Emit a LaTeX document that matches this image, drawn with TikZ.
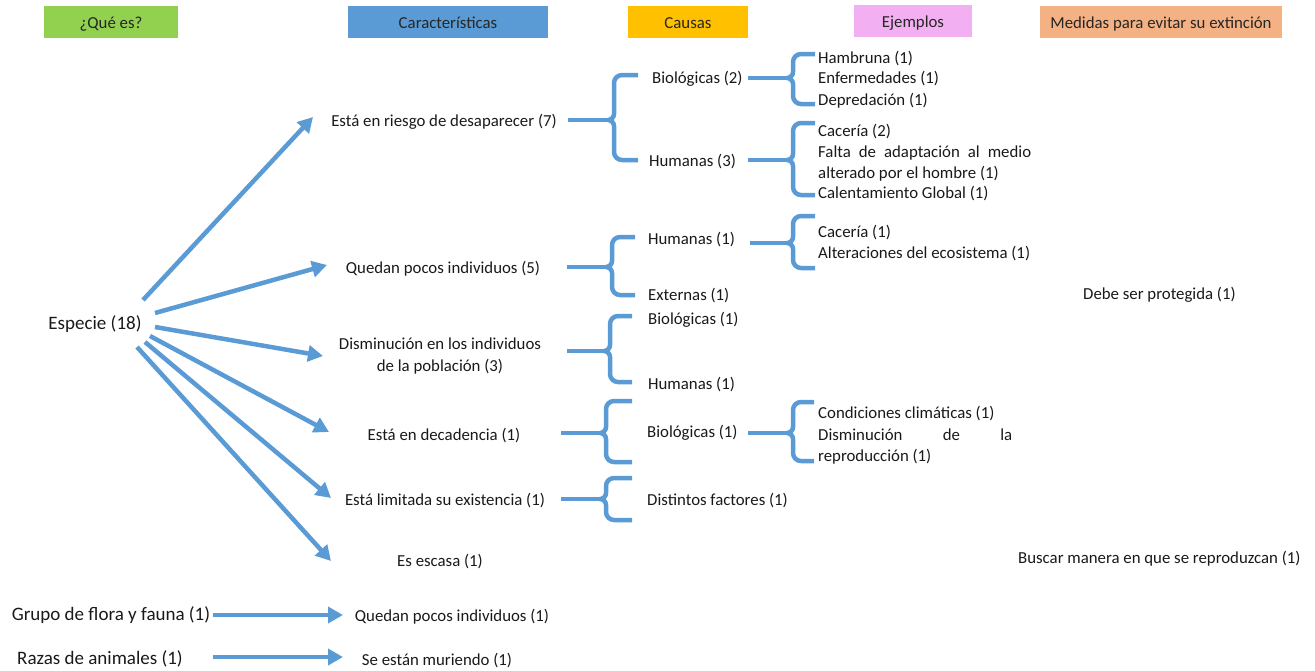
\documentclass[tikz,border=0pt]{standalone}
\usepackage{fontspec}
\setmainfont{Carlito}
\usetikzlibrary{arrows.meta,calc}
\definecolor{cblue}{HTML}{5B9BD5}
\definecolor{cgreen}{HTML}{92D050}
\definecolor{corange}{HTML}{FFC000}
\definecolor{cpink}{HTML}{F2B0F2}
\definecolor{csalmon}{HTML}{F4B183}
\newcommand\curly[6]{%
  \draw[brc] (#1,#2) -- (#3-6,#2);
  \draw[brc] (#6,#4) -- (#3+8,#4) to[out=180,in=90] (#3,#4+8) -- (#3,#2-6)
    to[out=-90,in=0] (#3-6,#2) to[out=0,in=90] (#3,#2+6) -- (#3,#5-8)
    to[out=-90,in=180] (#3+8,#5) -- (#6,#5);
}
\begin{document}
\begin{tikzpicture}[x=1pt,y=-1pt,
  hdr/.style={minimum height=32pt, inner sep=0pt, text height=14pt, text depth=2pt, font=\fontsize{16.8}{20}\selectfont, text=black!85},
  txt/.style={inner sep=0pt, yshift=-2pt, font=\fontsize{16.8}{21.5}\selectfont, text=black!90},
  big/.style={inner sep=0pt, yshift=-2pt, font=\fontsize{19}{23}\selectfont, text=black!90},
  arr/.style={draw=cblue, line width=4.5pt, -{Triangle[length=15pt,width=16pt]}},
  brc/.style={draw=cblue, line width=4.5pt, line join=round}]
\useasboundingbox (0,0) rectangle (1315,670);
% headers
\node[hdr, fill=cgreen, minimum width=134pt] (h1) at (111,22) {¿Qué es?};
\node[hdr, fill=cblue, minimum width=200pt] (h2) at (448,22) {Características};
\node[hdr, fill=corange, minimum width=120pt] (h3) at (688,22) {Causas};
\node[hdr, fill=cpink, minimum width=118pt] (h4) at (913,21) {Ejemplos};
\node[hdr, fill=csalmon, minimum width=242pt] (h5) at (1161,22) {Medidas para evitar su extinción};
% left
\node[big] (e) at (95,322) {Especie (18)};
\node[big] (g) at (111,613) {Grupo de flora y fauna (1)};
\node[big] (rz) at (100,657) {Razas de animales (1)};
% characteristics
\node[txt] (c1) at (444,120) {Está en riesgo de desaparecer (7)};
\node[txt] (c2) at (443,267) {Quedan pocos individuos (5)};
\node[txt, align=center] (c3) at (440,354) {Disminución en los individuos\\de la población (3)};
\node[txt] (c4) at (444,434) {Está en decadencia (1)};
\node[txt] (c5) at (445,499) {Está limitada su existencia (1)};
\node[txt] (c6) at (440,560) {Es escasa (1)};
\node[txt] (c7) at (452,615) {Quedan pocos individuos (1)};
\node[txt] (c8) at (437,659) {Se están muriendo (1)};
% causes
\node[txt, anchor=west] (k1) at (652,77) {Biológicas (2)};
\node[txt, anchor=west] (k2) at (649,160) {Humanas (3)};
\node[txt, anchor=west] (k3) at (648,238) {Humanas (1)};
\node[txt, anchor=west] (k4) at (648,294) {Externas (1)};
\node[txt, anchor=west] (k5) at (648,318) {Biológicas (1)};
\node[txt, anchor=west] (k6) at (648,383) {Humanas (1)};
\node[txt, anchor=west] (k7) at (647,431) {Biológicas (1)};
\node[txt, anchor=west] (k8) at (647,499) {Distintos factores (1)};
% examples
\node[txt, anchor=west] (x1) at (818,57) {Hambruna (1)};
\node[txt, anchor=west] (x2) at (818,77) {Enfermedades (1)};
\node[txt, anchor=west] (x3) at (818,99) {Depredación (1)};
\node[txt, anchor=west] (x4) at (818,130) {Cacería (2)};
\node[txt, anchor=west] (x5) at (818,151) {\makebox[213pt][l]{Falta\hfill de\hfill adaptación\hfill al\hfill medio}};
\node[txt, anchor=west] (x6) at (818,172) {alterado por el hombre (1)};
\node[txt, anchor=west] (x7) at (818,192) {Calentamiento Global (1)};
\node[txt, anchor=west] (x8) at (818,231) {Cacería (1)};
\node[txt, anchor=west] (x9) at (818,252) {Alteraciones del ecosistema (1)};
\node[txt, anchor=west] (x10) at (818,412) {Condiciones climáticas (1)};
\node[txt, anchor=west] (x11) at (818,433) {\makebox[194pt][l]{Disminución\hfill de\hfill la}};
\node[txt, anchor=west] (x12) at (818,455) {reproducción (1)};
% measures
\node[txt, anchor=west] (m1) at (1083,293) {Debe ser protegida (1)};
\node[txt, anchor=west] (m2) at (1018,557) {Buscar manera en que se reproduzcan (1)};
% arrows
\draw[arr] ($(e.center)+(48,-24)$) -- ($(c1.center)+(-131,-5)$);
\draw[arr] ($(e.center)+(60,-11)$) -- ($(c2.center)+(-116,-4)$);
\draw[arr] ($(e.center)+(60,3)$) -- ($(c3.center)+(-117,0)$);
\draw[arr] ($(e.center)+(55,12)$) -- ($(c4.center)+(-115,-4)$);
\draw[arr] ($(e.center)+(50,18)$) -- ($(c5.center)+(-114,-3)$);
\draw[arr] ($(e.center)+(42,23)$) -- ($(c6.center)+(-109,-1)$);
\draw[arr] ($(g.center)+(102,0)$) -- ($(c7.center)+(-109,-2)$);
\draw[arr] ($(rz.center)+(113,-2)$) -- ($(c8.center)+(-94,-4)$);
% braces
\curly{568}{120}{614}{75}{160}{638}
\curly{748}{78}{793}{54}{104}{815}
\curly{748}{160}{793}{123}{195}{815}
\curly{567}{267}{612}{237}{295}{635}
\curly{750}{243}{793}{216}{268}{815}
\curly{567}{351}{610}{316}{382}{632}
\curly{561}{433}{606}{401}{462}{632}
\curly{748}{433}{793}{402}{461}{814}
\curly{561}{499}{606}{478}{520}{632}
\end{tikzpicture}
\end{document}
